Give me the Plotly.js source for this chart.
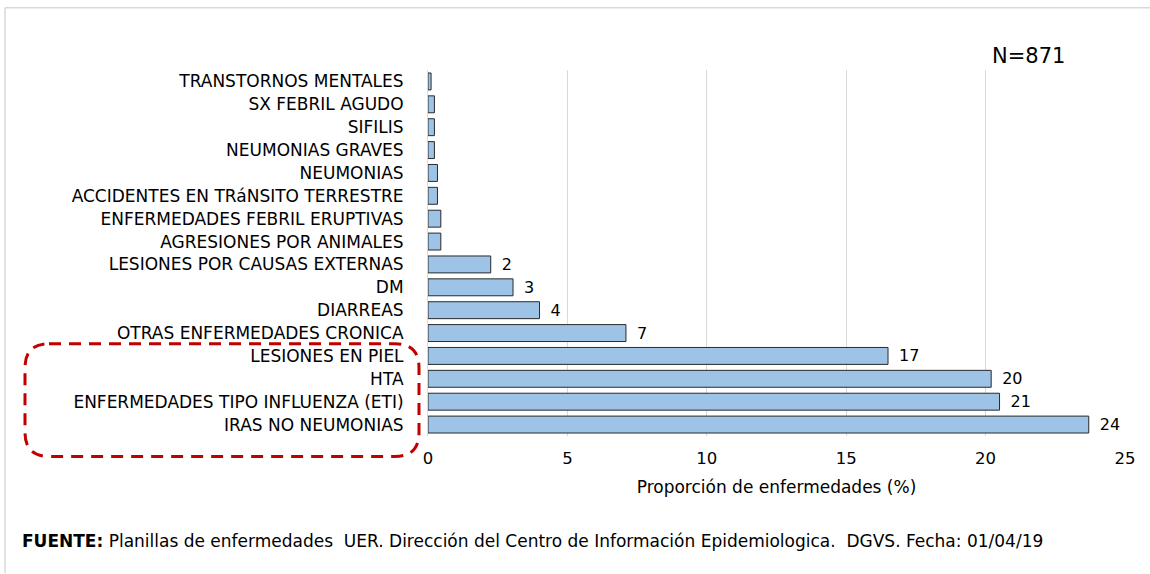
<!DOCTYPE html>
<html>
<head>
<meta charset="utf-8">
<script src="https://cdn.plot.ly/plotly-3.0.1.min.js"></script>
<style>html,body{margin:0;padding:0;background:#fff;}#chart{width:1150px;height:574px;}</style>
</head>
<body>
<div id="chart"></div>
<script>
const categories = [
  "IRAS NO NEUMONIAS",
  "ENFERMEDADES TIPO INFLUENZA (ETI)",
  "HTA",
  "LESIONES EN PIEL",
  "OTRAS ENFERMEDADES CRONICA",
  "DIARREAS",
  "DM",
  "LESIONES POR CAUSAS EXTERNAS",
  "AGRESIONES POR ANIMALES",
  "ENFERMEDADES FEBRIL ERUPTIVAS",
  "ACCIDENTES EN TRáNSITO TERRESTRE",
  "NEUMONIAS",
  "NEUMONIAS GRAVES",
  "SIFILIS",
  "SX FEBRIL AGUDO",
  "TRANSTORNOS MENTALES"
];
const values = [23.7, 20.5, 20.2, 16.5, 7.1, 4.0, 3.05, 2.25, 0.46, 0.46, 0.34, 0.34, 0.23, 0.23, 0.23, 0.11];
const valueLabels = ["24", "21", "20", "17", "7", "4", "3", "2", "", "", "", "", "", "", "", ""];
const xTicks = [0, 5, 10, 15, 20, 25];

const W = 1150, H = 574;
const L = 428, R = 1125, T = 69.5, B = 436.5;
const px = x => (x - L) / (R - L);
const py = y => (B - y) / (B - T);

// rounded dashed box path in paper coords
const bx0 = 25, bx1 = 419, by0 = 344, by1 = 457, rr = 24;
const rx = rr / (R - L), ry = rr / (B - T);
const X0 = px(bx0), X1 = px(bx1), Y0 = py(by0), Y1 = py(by1);
const boxPath = `M ${X0 + rx} ${Y0} L ${X1 - rx} ${Y0} Q ${X1} ${Y0} ${X1} ${Y0 - ry} L ${X1} ${Y1 + ry} Q ${X1} ${Y1} ${X1 - rx} ${Y1} L ${X0 + rx} ${Y1} Q ${X0} ${Y1} ${X0} ${Y1 + ry} L ${X0} ${Y0 - ry} Q ${X0} ${Y0} ${X0 + rx} ${Y0} Z`;

const font = "DejaVu Sans, Open Sans, sans-serif";

const trace = {
  type: "bar",
  orientation: "h",
  y: categories,
  x: values,
  text: valueLabels.map(t => t ? "\u2002" + t : t),
  textposition: "outside",
  constraintext: "none",
  cliponaxis: false,
  textfont: {family: font, size: 16, color: "#000"},
  marker: {color: "#9DC3E6", line: {color: "#2a2a2a", width: 1}},
  hoverinfo: "x+y"
};

const layout = {
  width: W, height: H,
  margin: {l: L, r: W - R, t: T, b: H - B, pad: 0},
  paper_bgcolor: "#fff",
  plot_bgcolor: "#fff",
  bargap: 0.26,
  showlegend: false,
  font: {family: font, size: 15, color: "#000"},
  xaxis: {
    range: [0, 25],
    tickvals: xTicks,
    ticktext: xTicks.map(String),
    showgrid: true,
    gridcolor: "#d9d9d9",
    gridwidth: 1,
    zeroline: false,
    showline: false,
    ticks: "",
    ticklabelstandoff: 10,
    tickfont: {family: font, size: 16.5, color: "#000"},
    title: {text: "Proporción de enfermedades (%)", font: {family: font, size: 17, color: "#000"}, standoff: 14}
  },
  yaxis: {
    showgrid: false,
    zeroline: false,
    showline: true,
    linecolor: "#d9d9d9",
    ticks: "",
    ticklabelstandoff: 20,
    tickfont: {family: font, size: 17, color: "#000"},
    automargin: false
  },
  shapes: [
    {type: "path", xref: "paper", yref: "paper", path: boxPath,
     line: {color: "#c00000", width: 3, dash: "12px,8px"}, fillcolor: "rgba(0,0,0,0)"},
    {type: "line", xref: "paper", yref: "paper",
     x0: px(5), x1: px(5), y0: py(7), y1: py(574),
     line: {color: "#d9d9d9", width: 1.5}},
    {type: "line", xref: "paper", yref: "paper",
     x0: px(5), x1: px(1150), y0: py(7), y1: py(7),
     line: {color: "#d9d9d9", width: 1.5}}
  ],
  annotations: [
    {xref: "paper", yref: "paper", x: px(1028), y: py(55), xanchor: "center", yanchor: "middle", text: "N=871",
     showarrow: false, font: {family: font, size: 21, color: "#000"}},
    {xref: "paper", yref: "paper", x: px(20), y: py(542), xanchor: "left", yanchor: "middle",
     text: "<b>FUENTE:</b> Planillas de enfermedades  UER. Dirección del Centro de Información Epidemiologica.  DGVS. Fecha: 01/04/19",
     showarrow: false, font: {family: font, size: 17, color: "#000"}}
  ]
};

Plotly.newPlot("chart", [trace], layout, {displayModeBar: false, staticPlot: true});
</script>
</body>
</html>
